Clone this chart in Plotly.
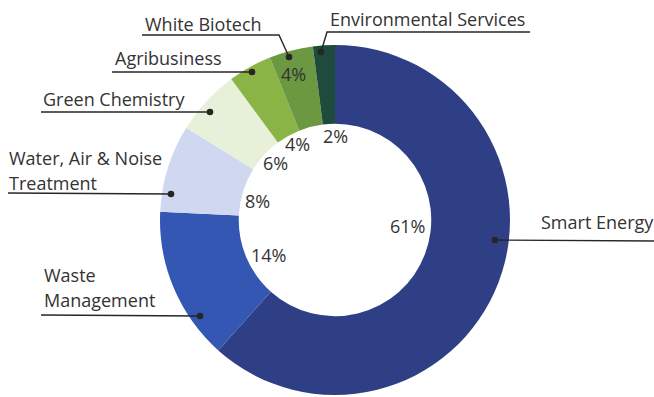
import plotly.graph_objects as go

# ---- data ----
categories = ["Smart Energy", "Waste Management", "Water, Air & Noise Treatment",
              "Green Chemistry", "Agribusiness", "White Biotech", "Environmental Services"]
shares = [61, 14, 8, 6, 4, 4, 2]
label_lines = [["Smart Energy"], ["Waste", "Management"], ["Water, Air & Noise", "Treatment"],
               ["Green Chemistry"], ["Agribusiness"], ["White Biotech"], ["Environmental Services"]]

# ---- style ----
colors = ["#2e3f86", "#3357b2", "#cfd8f0", "#e7f1da", "#8ab446", "#6c9842", "#1f4b3c"]
W, H = 654, 397
CX, CY, R = 335, 220, 175
HOLE = 0.55
FONT = "Open Sans"
FS = 18
TXT = "#333333"
LINE = "#262626"

def px(x):
    return x / W

def py(y):
    return 1 - y / H

fig = go.Figure(go.Pie(
    labels=categories, values=shares, hole=HOLE, sort=False, direction="clockwise",
    rotation=0, marker=dict(colors=colors, line=dict(width=0)),
    textinfo="none", hoverinfo="label+percent", showlegend=False,
    domain=dict(x=[px(CX - R), px(CX + R)], y=[py(CY + R), py(CY - R)]),
))

# percentage label positions (pixel centres)
pct_pos = [(407, 226), (268, 255), (257, 201), (275, 163), (297, 144), (293, 74), (335, 136)]
ann = []
for v, (x, y) in zip(shares, pct_pos):
    ann.append(dict(x=px(x), y=py(y), xref="paper", yref="paper", text=f"{v}%",
                    showarrow=False, xanchor="center", yanchor="middle",
                    font=dict(family=FONT, size=FS, color=TXT)))

# category label text: (left x, [line centre ys])
label_pos = [(539, [222]), (42, [275, 300]), (7, [158, 183]), (41, [99]),
             (113, [58]), (143, [24]), (328, [19])]
for lines, (x, ys) in zip(label_lines, label_pos):
    for t, y in zip(lines, ys):
        ann.append(dict(x=px(x), y=py(y), xref="paper", yref="paper", text=t,
                        showarrow=False, xanchor="left", yanchor="middle",
                        font=dict(family=FONT, size=FS, color=TXT)))

# leader polylines (pixel) ending at a dot
leaders = [
    [(654, 241), (495, 240)],
    [(41, 315), (200, 316)],
    [(8, 193), (171, 194)],
    [(41, 112), (210, 112)],
    [(112, 72), (252, 72)],
    [(142, 35), (279, 35), (289, 57)],
    [(530, 32), (327, 32), (321, 52)],
]
shapes = []
for pts in leaders:
    path = "M " + " L ".join(f"{px(x)},{py(y)}" for x, y in pts)
    shapes.append(dict(type="path", path=path, xref="paper", yref="paper",
                       line=dict(color=LINE, width=1.4)))
    ex, ey = pts[-1]
    r = 3.3
    shapes.append(dict(type="circle", xref="paper", yref="paper",
                       x0=px(ex - r), x1=px(ex + r), y0=py(ey + r), y1=py(ey - r),
                       fillcolor=LINE, line=dict(width=0)))

fig.update_layout(width=W, height=H, margin=dict(l=0, r=0, t=0, b=0),
                  paper_bgcolor="white", plot_bgcolor="white",
                  annotations=ann, shapes=shapes)
fig.write_html("out.html")
